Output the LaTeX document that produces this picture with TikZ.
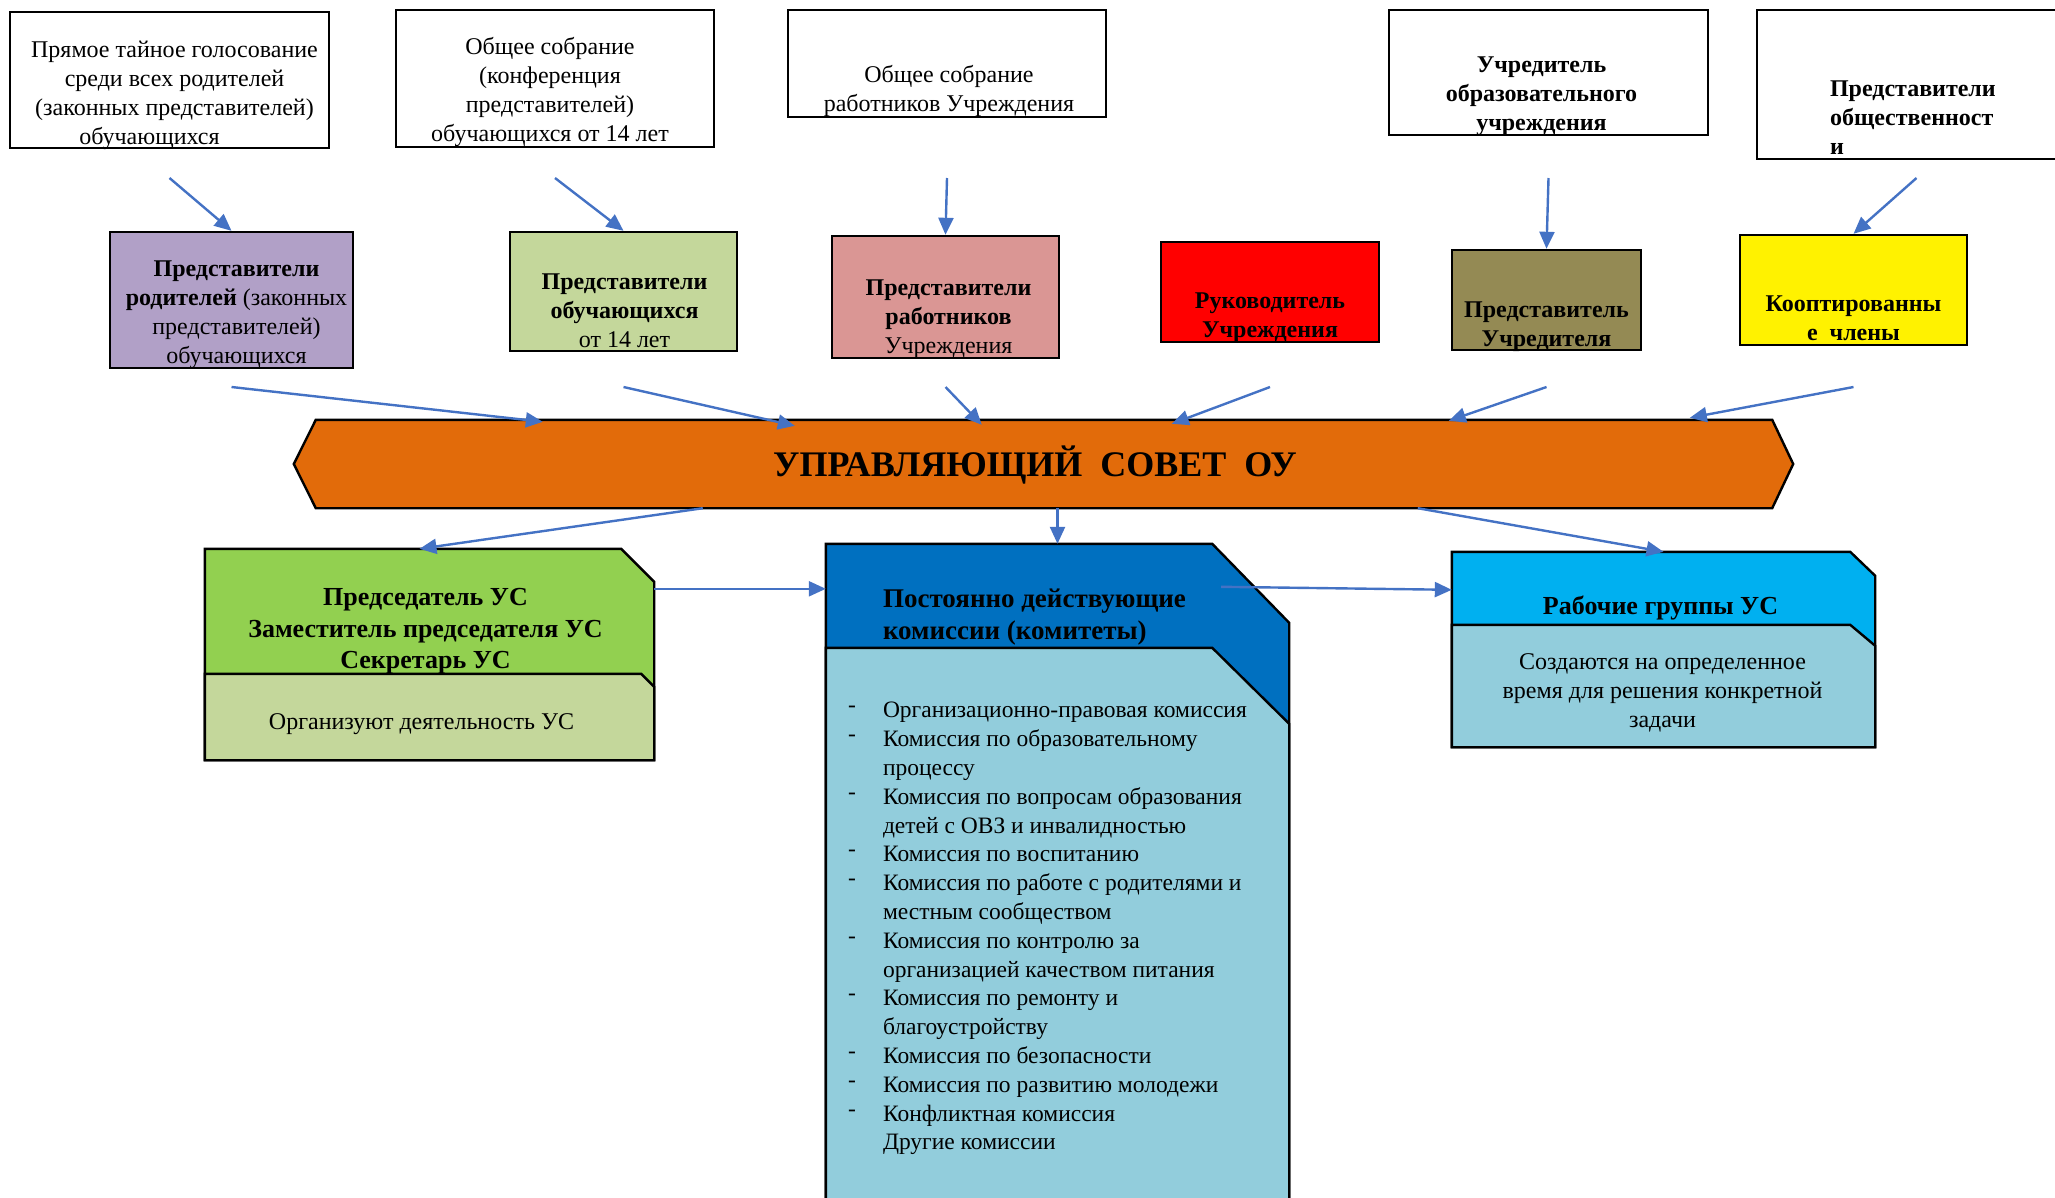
\documentclass[tikz,border=0pt]{standalone}
\usepackage{fontspec}
\setmainfont{Liberation Serif}
\usepackage{tikz}
\usetikzlibrary{arrows.meta}
\usetikzlibrary{calc}
\usetikzlibrary{positioning}

\definecolor{linkblue}{HTML}{4472C4}
\definecolor{parentsviolet}{HTML}{B1A0C7}
\definecolor{palegreen}{HTML}{C4D79B}
\definecolor{rosepink}{HTML}{DA9694}
\definecolor{olivebrown}{HTML}{948A54}
\definecolor{councilorange}{HTML}{E26B0A}
\definecolor{leafgreen}{HTML}{92D050}
\definecolor{deepblue}{HTML}{0070C0}
\definecolor{paleblue}{HTML}{92CDDC}
\definecolor{skyblue}{HTML}{00B0F0}

\begin{document}
\begin{tikzpicture}[x=1pt,y=-1pt,line width=2.4pt,>={Triangle[length=17pt,width=15pt]},
    main node/.style={rectangle,draw,inner sep=0pt},
    txt/.style={inner sep=0pt,align=center,font=\fontsize{24}{29}\selectfont},
    bold txt/.style={txt,font=\fontsize{24}{29}\selectfont\bfseries},
    head/.style={inner sep=0pt,align=center,font=\fontsize{26}{31.5}\selectfont\bfseries},
    link/.style={->,draw=linkblue,line width=2.4pt}]

    \useasboundingbox (0,0) rectangle (2055,1197);
    \clip (0,0) rectangle (2055,1197);

    \node[main node,minimum width=319pt,minimum height=136pt] (vote) at (169.5,80) {};
    \node[main node,minimum width=318pt,minimum height=137pt] (meeting) at (555,78.5) {};
    \node[main node,minimum width=318pt,minimum height=107pt] (staff) at (947,63.5) {};
    \node[main node,minimum width=319pt,minimum height=125pt] (founder) at (1548.5,72.5) {};
    \node[main node,minimum width=319pt,minimum height=149pt] (public) at (1916.5,84.5) {};

    \node[txt] (vote-txt) at ($(vote.center)+(5,15)$) {Прямое тайное голосование\\среди всех родителей\\(законных представителей)\\обучающихся\hspace*{50pt}};
    \node[txt] (meeting-txt) at ($(meeting.center)+(-5,13)$) {Общее собрание\\(конференция\\представителей)\\обучающихся от 14 лет};
    \node[txt] (staff-txt) at ($(staff.center)+(2,27)$) {Общее собрание\\работников Учреждения};
    \node[bold txt] (founder-txt) at ($(founder.center)+(-7,24)$) {Учредитель\\образовательного\\учреждения};
    \node[bold txt,align=left,anchor=west] (public-txt) at ($(public.west)+(73,33)$) {Представители\\общественност\\и};

    \node[main node,fill=parentsviolet,minimum width=243pt,minimum height=136pt] (parents) at (231.5,300) {};
    \node[main node,fill=palegreen,minimum width=227pt,minimum height=119pt] (students) at (623.5,291.5) {};
    \node[main node,fill=rosepink,minimum width=227pt,minimum height=122pt] (workers) at (945.5,297) {};
    \node[main node,fill=red,minimum width=218pt,minimum height=100pt] (head) at (1270,292) {};
    \node[main node,fill=olivebrown,minimum width=189pt,minimum height=100pt] (founder-rep) at (1546.5,300) {};
    \node[main node,fill=yellow,minimum width=227pt,minimum height=110pt] (coopted) at (1853.5,290) {};

    \node[txt] (parents-txt) at ($(parents.center)+(5,15)$) {\textbf{Представители}\\\textbf{родителей} (законных\\представителей)\\обучающихся};
    \node[txt] (students-txt) at ($(students.center)+(1,19)$) {\textbf{Представители}\\\textbf{обучающихся}\\от 14 лет};
    \node[txt] (workers-txt) at ($(workers.center)+(3,22)$) {\textbf{Представители}\\\textbf{работников}\\Учреждения};
    \node[bold txt] (head-txt) at ($(head.center)+(0,26)$) {Руководитель\\Учреждения};
    \node[bold txt] (founder-rep-txt) at ($(founder-rep.center)+(0,27)$) {Представитель\\Учредителя};
    \node[bold txt] (coopted-txt) at ($(coopted.center)+(0,28)$) {Кооптированны\\е~~члены};

    \node[minimum width=1454pt,minimum height=86pt,inner sep=0pt] (council) at (1044,464) {};
    \path[draw,fill=councilorange] (council.north west) -- (council.north east) -- ($(council.east)+(21,0)$)
        -- (council.south east) -- (council.south west) -- ($(council.west)+(-22,0)$) -- cycle;
    \node[font=\fontsize{36}{40}\selectfont\bfseries] (council-txt) at ($(council.center)+(-9,1)$) {УПРАВЛЯЮЩИЙ~~СОВЕТ~~ОУ};

    \node[minimum width=447pt,minimum height=209pt,inner sep=0pt] (chair) at (429.5,654.5) {};
    \path[draw,fill=leafgreen] (chair.north west) -- ($(chair.north east)+(-33,0)$) -- ($(chair.north east)+(0,33)$)
        -- (chair.south east) -- (chair.south west) -- cycle;
    \path[draw,fill=palegreen] ($(chair.north west)+(0,125)$) -- ($(chair.north east)+(-13,125)$) -- ($(chair.north east)+(0,138)$)
        -- (chair.south east) -- (chair.south west) -- cycle;

    \node[minimum width=461pt,minimum height=665pt,inner sep=0pt] (comm) at (1057.5,877.5) {};
    \path[draw,fill=deepblue] (comm.north west) -- ($(comm.north east)+(-77,0)$) -- ($(comm.north east)+(0,79)$)
        -- (comm.south east) -- (comm.south west) -- cycle;
    \path[draw,fill=paleblue] ($(comm.north west)+(0,104)$) -- ($(comm.north east)+(-77,104)$) -- ($(comm.north east)+(0,180)$)
        -- (comm.south east) -- (comm.south west) -- cycle;

    \node[minimum width=421pt,minimum height=193pt,inner sep=0pt] (groups) at (1663.5,649.5) {};
    \path[draw,fill=skyblue] (groups.north west) -- ($(groups.north east)+(-25,0)$) -- ($(groups.north east)+(0,24)$)
        -- (groups.south east) -- (groups.south west) -- cycle;
    \path[draw,fill=paleblue] ($(groups.north west)+(0,73)$) -- ($(groups.north east)+(-25,73)$) -- ($(groups.north east)+(0,94)$)
        -- (groups.south east) -- (groups.south west) -- cycle;

    \node[head] (chair-head) at ($(chair.center)+(-4,-23)$) {Председатель УС\\Заместитель председателя УС\\Секретарь УС};
    \node[txt] (chair-txt) at ($(chair.center)+(-8,70)$) {Организуют деятельность УС};
    \node[head,align=left,anchor=west,font=\fontsize{27}{32}\selectfont\bfseries] (comm-head) at ($(comm.north west)+(56,73)$) {Постоянно действующие\\комиссии (комитеты)};
    \node[inner sep=0pt,anchor=base west,font=\fontsize{23.5}{28.8}\selectfont] (comm-list) at ($(comm.north west)+(21,174)$) {%
        \begin{tabular}[t]{@{}p{35pt}@{}l@{}}
        \raisebox{5pt}{-} & Организационно-правовая комиссия\\
        \raisebox{5pt}{-} & Комиссия по образовательному\\
          & процессу\\
        \raisebox{5pt}{-} & Комиссия по вопросам образования\\
          & детей с ОВЗ и инвалидностью\\
        \raisebox{5pt}{-} & Комиссия по воспитанию\\
        \raisebox{5pt}{-} & Комиссия по работе с родителями и\\
          & местным сообществом\\
        \raisebox{5pt}{-} & Комиссия по контролю за\\
          & организацией качеством питания\\
        \raisebox{5pt}{-} & Комиссия по ремонту и\\
          & благоустройству\\
        \raisebox{5pt}{-} & Комиссия по безопасности\\
        \raisebox{5pt}{-} & Комиссия по развитию молодежи\\
        \raisebox{5pt}{-} & Конфликтная комиссия\\
          & Другие комиссии
        \end{tabular}};
    \node[head] (groups-head) at ($(groups.center)+(-3,-42)$) {Рабочие группы УС};
    \node[txt] (groups-txt) at ($(groups.center)+(-1,43)$) {Создаются на определенное\\время для решения конкретной\\задачи};

    \coordinate (upper-tails) at (0,178);
    \coordinate (lower-tails) at (0,387);

    \path[link] (vote |- upper-tails) -- (parents.north);
    \path[link] (meeting |- upper-tails) -- (students.north);
    \path[link] (staff |- upper-tails) -- (workers.north);
    \path[link] (founder |- upper-tails) -- (founder-rep.north);
    \path[link] (public |- upper-tails) -- (coopted.north);

    \path[link] (parents |- lower-tails) -- ($(council.north west)+(227,2)$);
    \path[link] (students |- lower-tails) -- ($(council.north west)+(479,6)$);
    \path[link] (workers |- lower-tails) -- ($(council.north west)+(666,5)$);
    \path[link] (head |- lower-tails) -- ($(council.north west)+(856,4)$);
    \path[link] (founder-rep |- lower-tails) -- ($(council.north west)+(1133,1)$);
    \path[link] (coopted |- lower-tails) -- ($(council.north west)+(1374,-2)$);

    \path[link] ($(council.south west)+(387,0)$) -- ($(chair.north)+(-10,0)$);
    \path[link] (comm.north |- council.south) -- (comm.north);
    \path[link] ($(council.south west)+(1102,0)$) -- (groups.north);
    \path[link] ($(chair.north east)+(0,40)$) -- ($(comm.north west)+(0,45)$);
    \path[link] ($(comm.north east)+(-68,43)$) -- ($(groups.north west)+(0,38)$);

\end{tikzpicture}
\end{document}
